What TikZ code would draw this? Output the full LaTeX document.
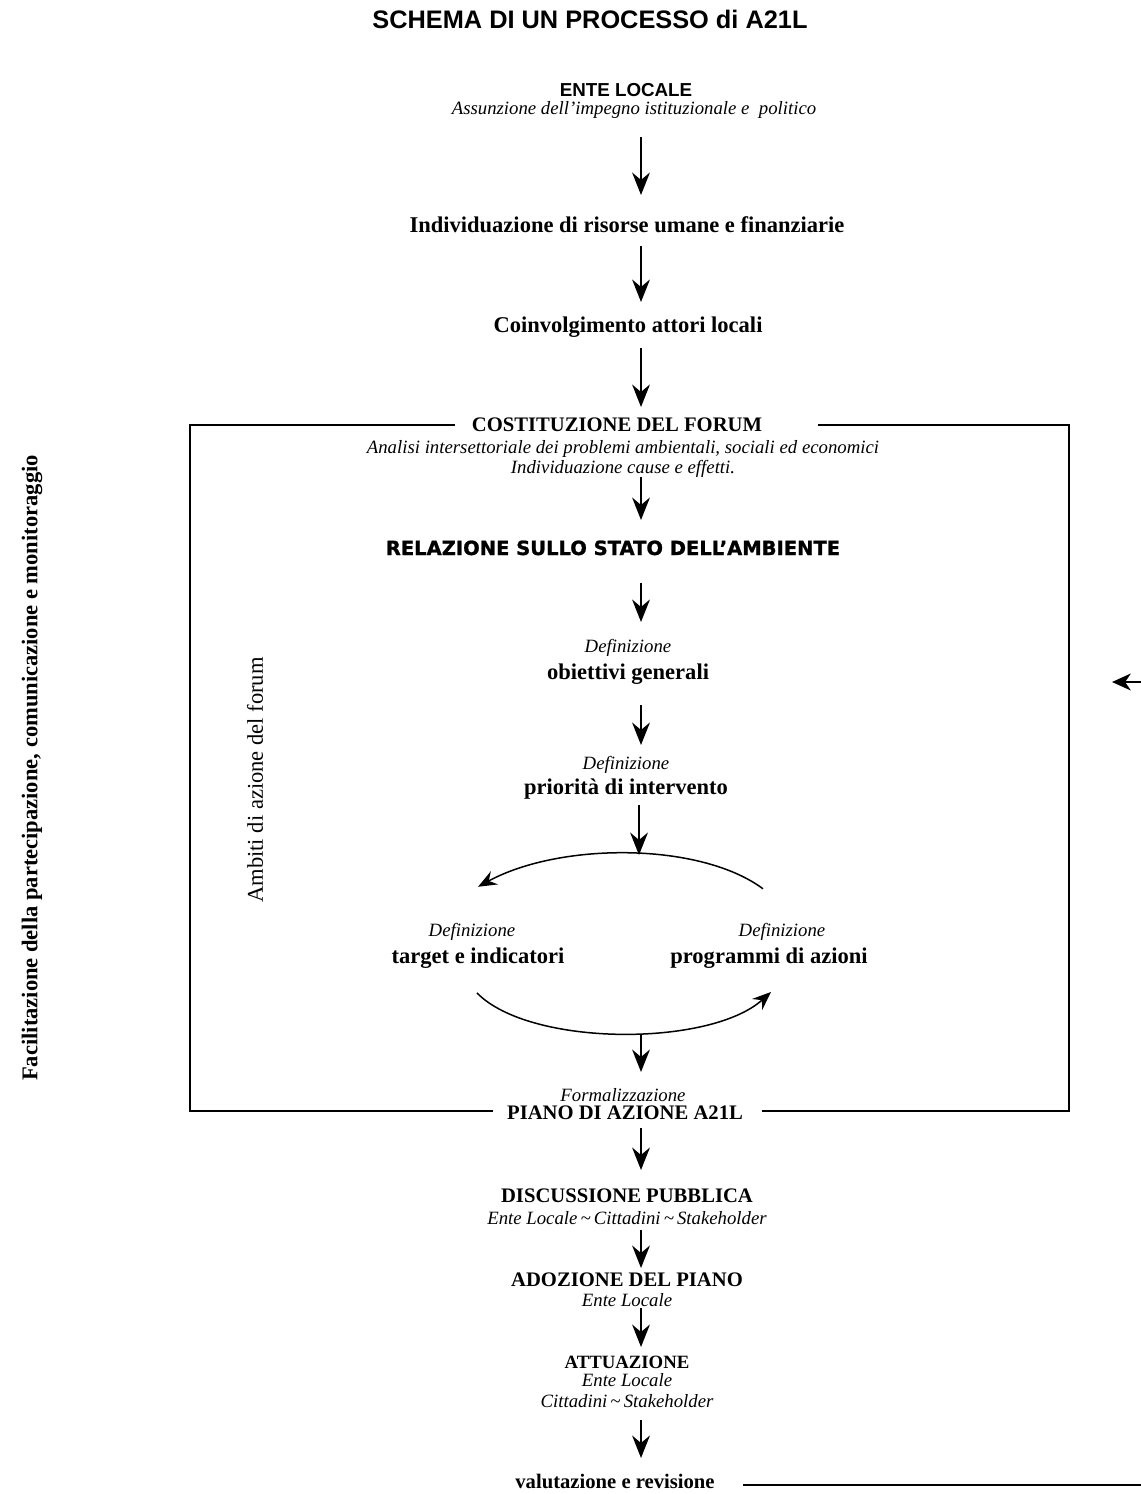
\documentclass[tikz,border=0pt]{standalone}
\usepackage{fontspec}
\setmainfont{Liberation Serif}
\setsansfont{Liberation Sans}
\newfontfamily\heavyfont[FakeBold=1.2]{DejaVu Sans Bold}
\usetikzlibrary{arrows.meta,calc}

\tikzset{
  x=0.5328pt, y=-0.5328pt,
  every node/.style={inner sep=0pt, outer sep=0pt, anchor=base},
  sftitle/.style={font=\fontsize{13.5}{16}\selectfont\sffamily\bfseries},
  sfhead/.style={font=\fontsize{10}{12}\selectfont\sffamily\bfseries},
  stepbf/.style={font=\fontsize{12}{14}\selectfont\bfseries},
  capbf/.style={font=\fontsize{11}{13}\selectfont\bfseries},
  note/.style={font=\fontsize{10}{12}\selectfont\itshape},
  heavy/.style={font=\fontsize{10.4}{12}\selectfont\heavyfont},
  flow/.style={-{Stealth[length=12pt,width=9.5pt,inset=4pt]}, line width=0.8pt},
  loopflow/.style={-{Stealth[length=10pt,width=8pt,inset=3.5pt]}, line width=0.8pt},
  frame/.style={line width=0.8pt},
}
\newcommand{\tld}{\,\textasciitilde\,}

\begin{document}
\begin{tikzpicture}
  \useasboundingbox (0,0) rectangle (1141,1494);
  \coordinate (spine) at (641,0);

  % title and local authority
  \node[sftitle] (title) at (590,28) {SCHEMA DI UN PROCESSO di A21L};
  \node[sfhead] (ente) at (626,96) {ENTE LOCALE};
  \node[note] (enteSub) at (634,114) {Assunzione dell’impegno istituzionale e\ \ politico};

  \node[stepbf] (risorse) at (627,232) {Individuazione di risorse umane e finanziarie};
  \node[stepbf] (attori) at (628,332) {Coinvolgimento attori locali};

  % forum
  \node[capbf] (forum) at (617,431) {COSTITUZIONE DEL FORUM};
  \node[note] (forumA) at (623,453) {Analisi intersettoriale dei problemi ambientali, sociali ed economici};
  \node[note] (forumB) at (623,473) {Individuazione cause e effetti.};
  \node[heavy] (rsa) at (613,555) {RELAZIONE SULLO STATO DELL’AMBIENTE};
  \node[note] (defObj) at (628,652) {Definizione};
  \node[stepbf] (obiettivi) at (628,679) {obiettivi generali};
  \node[note] (defPri) at (626,769) {Definizione};
  \node[stepbf] (priorita) at (626,794) {priorità di intervento};
  \node[note] (defTarget) at (472,936) {Definizione};
  \node[stepbf] (target) at (478,963) {target e indicatori};
  \node[note] (defProg) at (782,936) {Definizione};
  \node[stepbf] (programmi) at (769,963) {programmi di azioni};
  \node[note] (formal) at (623,1101) {Formalizzazione};
  \node[capbf] (piano) at (625,1119) {PIANO DI AZIONE A21L};

  % after the plan
  \node[capbf] (discussione) at (627,1202) {DISCUSSIONE PUBBLICA};
  \node[note] (discSub) at (627,1224) {Ente Locale\tld Cittadini\tld Stakeholder};
  \node[capbf] (adozione) at (627,1286) {ADOZIONE DEL PIANO};
  \node[note] (adozSub) at (627,1306) {Ente Locale};
  \node[font=\fontsize{10}{12}\selectfont\bfseries] (attuazione) at (627,1368) {ATTUAZIONE};
  \node[note] (attSubA) at (627,1386) {Ente Locale};
  \node[note] (attSubB) at (627,1407) {Cittadini\tld Stakeholder};
  \node[capbf] (valutazione) at (615,1488) {valutazione e revisione};

  % side labels
  \node[stepbf, rotate=90, anchor=center] (facilita) at (32,768)
    {Facilitazione della partecipazione, comunicazione e monitoraggio};
  \node[font=\fontsize{12}{14}\selectfont, rotate=90, anchor=center] (ambiti) at (255,780)
    {Ambiti di azione del forum};

  % forum frame
  \draw[frame] (455,425) -| (190,1111) -- (493,1111);
  \draw[frame] (818,425) -| (1069,1111) -- (762,1111);

  % main flow
  \draw[flow] ($(enteSub.base -| spine)+(0,23)$) -- ($(risorse.base -| spine)+(0,-37)$);
  \draw[flow] ($(risorse.base -| spine)+(0,14)$) -- ($(attori.base -| spine)+(0,-30)$);
  \draw[flow] ($(attori.base -| spine)+(0,16)$) -- ($(forum.base -| spine)+(0,-24)$);
  \draw[flow] ($(forumB.base -| spine)+(0,4)$) -- ($(rsa.base -| spine)+(0,-35)$);
  \draw[flow] ($(rsa.base -| spine)+(0,28)$) -- ($(defObj.base -| spine)+(0,-30)$);
  \draw[flow] ($(obiettivi.base -| spine)+(0,26)$) -- ($(defPri.base -| spine)+(0,-24)$);
  \draw[flow] ($(priorita.base -| spine)+(-2,11)$) -- ($(priorita.base -| spine)+(-2,61)$);
  \draw[flow] ($(target.base -| spine)+(0,72)$) -- ($(formal.base -| spine)+(0,-29)$);
  \draw[flow] ($(piano.base -| spine)+(0,9)$) -- ($(discussione.base -| spine)+(0,-32)$);
  \draw[flow] ($(discSub.base -| spine)+(0,6)$) -- ($(adozione.base -| spine)+(0,-18)$);
  \draw[flow] ($(adozSub.base -| spine)+(0,2)$) -- ($(attuazione.base -| spine)+(0,-21)$);
  \draw[flow] ($(attSubB.base -| spine)+(0,13)$) -- ($(valutazione.base -| spine)+(0,-30)$);

  % target / programmi loop
  \draw[loopflow] ($(defProg.north)+(-19,-34)$) .. controls (700,842) and (560,842) .. ($(defTarget.north)+(6,-36)$);
  \draw[loopflow] ($(target.south)+(-1,25)$) .. controls (530,1047) and (710,1047) .. ($(programmi.south)+(2,24)$);

  % return from evaluation
  \coordinate (exitR) at (1141,1485);
  \coordinate (backR) at (1141,682);
  \coordinate (backTip) at (1112,682);
  \draw[frame, shorten <=15pt] (valutazione.east |- exitR) -- (exitR);
  \draw[flow, -{Stealth[length=10pt,width=9pt,inset=3pt]}] (backR) -- (backTip);
\end{tikzpicture}
\end{document}
